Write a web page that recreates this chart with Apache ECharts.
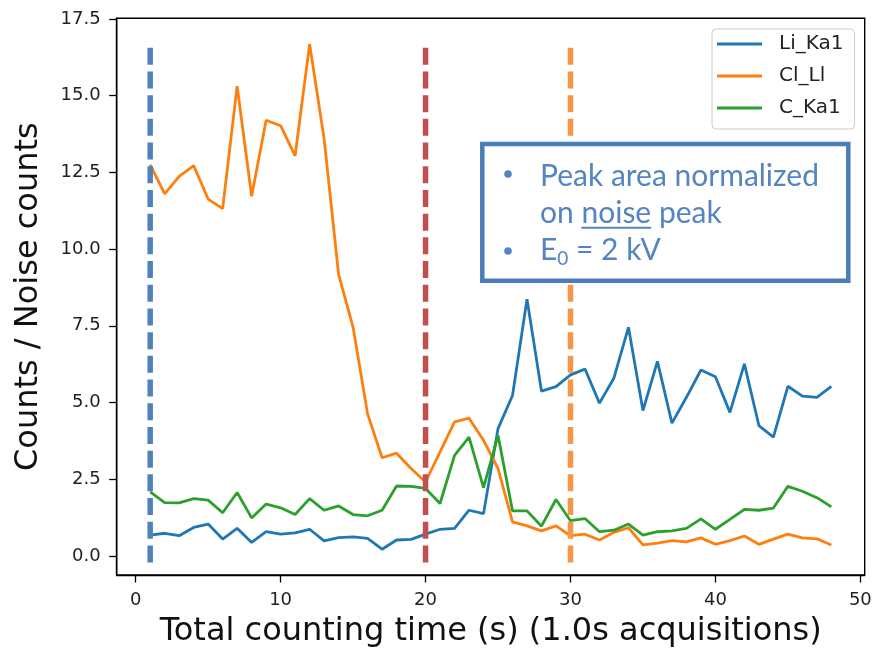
<!DOCTYPE html>
<html>
<head>
<meta charset="utf-8">
<script src="https://cdn.jsdelivr.net/npm/echarts@6/dist/echarts.min.js"></script>
<style>html,body{margin:0;padding:0;background:#fff;}#chart{width:874px;height:650px;}</style>
</head>
<body>
<div id="chart"></div>
<script>
// ---- data ----
const times = [1,2,3,4,5,6,7,8,9,10,11,12,13,14,15,16,17,18,19,20,21,22,23,24,25,26,27,28,29,30,31,32,33,34,35,36,37,38,39,40,41,42,43,44,45,46,47,48];
const liKa1 = [0.68,0.74,0.66,0.93,1.04,0.55,0.90,0.44,0.79,0.71,0.75,0.87,0.49,0.60,0.62,0.57,0.22,0.52,0.54,0.71,0.87,0.90,1.49,1.38,4.15,5.23,8.37,5.37,5.52,5.90,6.09,4.98,5.80,7.45,4.74,6.34,4.33,5.17,6.06,5.84,4.68,6.26,4.25,3.87,5.53,5.21,5.17,5.53];
const clLl = [12.75,11.80,12.37,12.72,11.63,11.32,15.31,11.72,14.20,14.02,13.04,16.68,13.60,9.18,7.45,4.63,3.20,3.35,2.85,2.41,3.39,4.37,4.49,3.77,2.85,1.11,0.98,0.82,0.98,0.66,0.71,0.52,0.77,0.92,0.36,0.42,0.50,0.46,0.59,0.38,0.50,0.65,0.38,0.55,0.71,0.59,0.56,0.36];
const cKa1 = [2.09,1.74,1.73,1.87,1.82,1.41,2.07,1.24,1.69,1.57,1.35,1.87,1.49,1.63,1.35,1.31,1.49,2.28,2.27,2.20,1.71,3.28,3.87,2.23,3.93,1.47,1.47,0.97,1.84,1.15,1.22,0.79,0.84,1.04,0.68,0.79,0.82,0.90,1.21,0.87,1.19,1.52,1.49,1.56,2.27,2.11,1.90,1.60];
const seriesNames = ['Li_Ka1','Cl_Ll','C_Ka1'];
const xTicks = [0,10,20,30,40,50];
const yTicks = [0,2.5,5,7.5,10,12.5,15,17.5];
const markerTimes = [1,20,30];
const markerTop = 16.56, markerBottom = -0.35;
const xTitle = 'Total counting time (s) (1.0s acquisitions)';
const yTitle = 'Counts / Noise counts';
const noteLine1 = 'Peak area normalized';
const noteLine2 = ['on ', 'noise', ' peak'];
const noteLine3 = ['E', '0', ' = 2 kV'];

const lineColors = ['#1f77b4','#ff7f0e','#2ca02c'];
const markerColors = ['#4f81bd','#c0504d','#f79646'];
const noteColor = '#5485c2';

const pair = (xs, ys) => xs.map((x, i) => [x, ys[i]]);

const chart = echarts.init(document.getElementById('chart'), null, {renderer:'canvas'});

const dataSeries = [liKa1, clLl, cKa1].map((ys, i) => ({
  name: seriesNames[i], type: 'line', data: pair(times, ys),
  symbol: 'none', lineStyle: {color: lineColors[i], width: 2.8},
  itemStyle: {color: lineColors[i]}, z: 3, animation: false
}));
const markerSeries = markerTimes.map((t, i) => ({
  name: 'marker' + i, type: 'line', data: [[t, markerTop], [t, markerBottom]],
  symbol: 'none', lineStyle: {color: markerColors[i], width: 5.5, type: [17, 6.7], cap: 'butt'},
  z: 5, animation: false, silent: true
}));

// text metrics for the note box
const NOTE_FONT = 30, SUB_FONT = 19, NOTE_FAMILY = 'Lato';
const ctx = document.createElement('canvas').getContext('2d');
ctx.font = NOTE_FONT + 'px ' + NOTE_FAMILY;
const wOn = ctx.measureText(noteLine2[0]).width;
const wNoise = ctx.measureText(noteLine2[1]).width;
const wE = ctx.measureText(noteLine3[0]).width;
ctx.font = SUB_FONT + 'px ' + NOTE_FAMILY;
const wSub = ctx.measureText(noteLine3[1]).width;

const textX = 540;
const mainFont = NOTE_FONT + 'px ' + NOTE_FAMILY;
const txt = (x, y, text, font) => ({type: 'text', z: 101, x: x, y: y,
  style: {text: text, font: font || mainFont, fill: noteColor, verticalAlign: 'middle'}});

const option = {
  animation: false,
  grid: {left: 116.7, right: 9.3, top: 18.3, bottom: 75, show: true, borderColor: '#000', borderWidth: 1.4,
         backgroundColor: 'transparent', containLabel: false, outerBoundsMode: 'none'},
  xAxis: {
    type: 'value', min: -1.31, max: 50.3,
    axisLine: {show: true, onZero: false, lineStyle: {color: '#000', width: 1.4}},
    axisTick: {show: true, length: 7.5, lineStyle: {color: '#000', width: 1.3}, customValues: xTicks},
    axisLabel: {customValues: xTicks, fontFamily: 'DejaVu Sans', fontSize: 18, color: '#222', margin: 16},
    splitLine: {show: false},
    name: xTitle, nameLocation: 'middle', nameGap: 41,
    nameTextStyle: {fontFamily: 'DejaVu Sans', fontSize: 32, color: '#111'}
  },
  yAxis: {
    type: 'value', min: -0.62, max: 17.52,
    axisLine: {show: true, onZero: false, lineStyle: {color: '#000', width: 1.4}},
    axisTick: {show: true, length: 7.5, lineStyle: {color: '#000', width: 1.3}, customValues: yTicks},
    axisLabel: {customValues: yTicks, fontFamily: 'DejaVu Sans', fontSize: 18, color: '#222', margin: 16, formatter: v => v.toFixed(1)},
    splitLine: {show: false},
    name: yTitle, nameLocation: 'middle', nameGap: 72, nameRotate: 90,
    nameTextStyle: {fontFamily: 'DejaVu Sans', fontSize: 32, color: '#111'}
  },
  legend: {
    data: seriesNames.map(n => ({name: n, icon: 'rect'})), orient: 'vertical', left: 712, top: 29,
    itemWidth: 45, itemHeight: 3, itemGap: 12,
    padding: [5, 11, 11, 5],
    backgroundColor: 'rgba(255,255,255,0.8)', borderColor: '#cccccc', borderWidth: 1, borderRadius: 4,
    textStyle: {fontFamily: 'DejaVu Sans', fontSize: 20, color: '#222', padding: [0,0,0,12]}
  },
  series: [...dataSeries, ...markerSeries],
  graphic: [
    {type: 'rect', z: 100, shape: {x: 482.3, y: 144, width: 366, height: 136.7},
     style: {fill: '#fff', stroke: '#4a7ebb', lineWidth: 4.5}},
    {type: 'circle', z: 101, shape: {cx: 508, cy: 174, r: 3.8}, style: {fill: noteColor}},
    {type: 'circle', z: 101, shape: {cx: 508, cy: 251, r: 3.8}, style: {fill: noteColor}},
    txt(textX, 176, noteLine1),
    txt(textX, 213.5, noteLine2.join('')),
    {type: 'line', z: 101, shape: {x1: textX + wOn, y1: 227.7, x2: textX + wOn + wNoise, y2: 227.7}, style: {stroke: noteColor, lineWidth: 2}},
    txt(textX, 250, noteLine3[0]),
    txt(textX + wE, 259, noteLine3[1], SUB_FONT + 'px ' + NOTE_FAMILY),
    txt(textX + wE + wSub, 250, noteLine3[2])
  ]
};
chart.setOption(option);
</script>
</body>
</html>
